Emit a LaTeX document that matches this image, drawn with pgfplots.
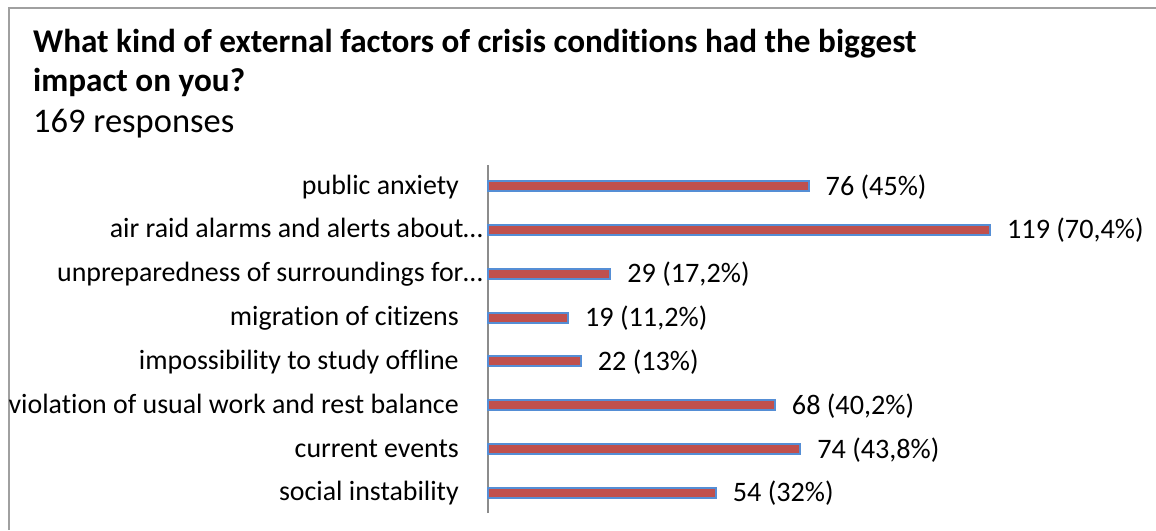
\documentclass[border=0pt]{standalone}
\usepackage{pgfplots}
\pgfplotsset{compat=1.18}
\usepackage{pgfplotstable}
\usepackage{fontspec}
\setmainfont{Carlito}[Ligatures={NoCommon}]
\newcommand{\nl}{\kern0pt{}}
\definecolor{barred}{RGB}{192,80,77}
\definecolor{barblue}{RGB}{85,142,213}
\definecolor{framegray}{RGB}{160,160,160}
\definecolor{axisgray}{RGB}{140,140,140}
\pgfplotstableread[col sep=semicolon]{
i;v;lab
0;54;54 (32\%)
1;74;74 (43,8\%)
2;68;68 (40,2\%)
3;22;22 (13\%)
4;19;19 (11,2\%)
5;29;29 (17,2\%)
6;119;119 (70,4\%)
7;76;76 (45\%)
}\datatable
\begin{document}
\begin{tikzpicture}[x=1pt,y=1pt]
\useasboundingbox (0,0) rectangle (1156,530);
\fill[white] (0,0) rectangle (1156,530);
\draw[framegray, line width=2pt] (8.5,0) -- (8.5,521.5) -- (1156,521.5);
\node[anchor=base west, inner sep=0pt, font=\fontsize{33.2}{40}\selectfont\bfseries] at (33,477) {What kind of external factors of crisis condit\nl ions had the biggest};
\node[anchor=base west, inner sep=0pt, font=\fontsize{33.2}{40}\selectfont\bfseries] at (33,438) {impact on you?};
\node[anchor=base west, inner sep=0pt, font=\fontsize{34.5}{40}\selectfont] at (33,397) {169 responses};
\begin{axis}[
  at={(488pt,17pt)}, anchor=south west,
  scale only axis, width=633pt, height=348pt,
  xmin=0, xmax=150, ymin=-0.46, ymax=7.48,
  axis x line=none, axis y line=left,
  y axis line style={-, draw=axisgray, line width=2pt},
  ytick={0,...,7},
  yticklabels={social instability\kern24pt, current events\kern24pt, violation of usual work and rest balance\kern24pt, impossibility to study of\nl f\nl line\kern24pt, migration of cit\nl izens\kern24pt, unpreparedness of surroundings for…, air raid alarms and alerts about…, public anxiety\kern24pt},
  major tick length=0pt, ytick style={draw=none},
  yticklabel style={anchor=base east, inner sep=0pt, xshift=-5pt, yshift=-8pt, font=\fontsize{27.9}{33}\selectfont},
  xbar, bar width=10pt, clip=false,
  point meta=explicit symbolic,
  nodes near coords,
  every node near coord/.append style={anchor=base west, inner sep=0pt, xshift=16pt, yshift=-9pt, font=\fontsize{28.2}{33}\selectfont, text=black},
]
\addplot[fill=barred, draw=barblue, line width=2pt] table[x=v, y=i, meta=lab] {\datatable};
\end{axis}
\end{tikzpicture}
\end{document}
